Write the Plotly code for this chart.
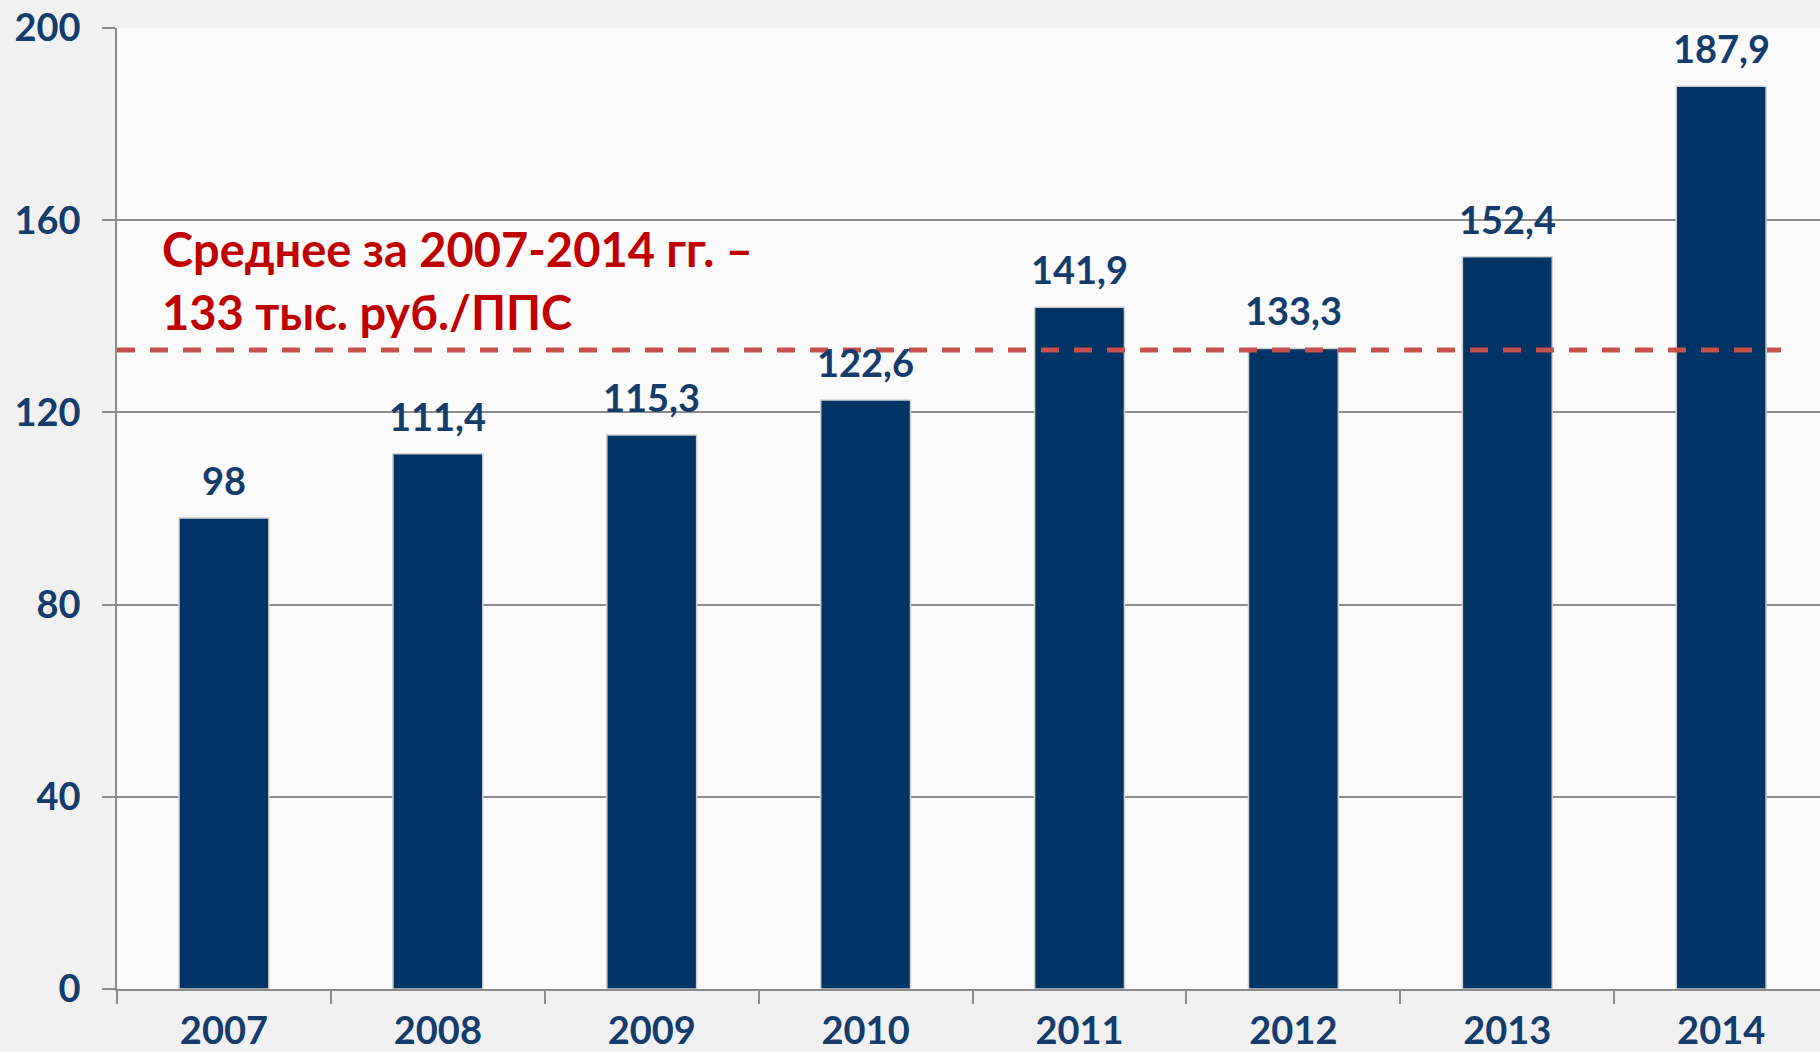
import plotly.graph_objects as go

years = ["2007", "2008", "2009", "2010", "2011", "2012", "2013", "2014"]
values = [98, 111.4, 115.3, 122.6, 141.9, 133.3, 152.4, 187.9]
labels = ["98", "111,4", "115,3", "122,6", "141,9", "133,3", "152,4", "187,9"]
average = 133
avg_lines = ["Среднее за 2007-2014 гг. –", "133 тыс. руб./ППС"]
y_ticks = [0, 40, 80, 120, 160, 200]

navy = "#003366"
label_color = "#143c6c"
font_family = "Lato, 'Open Sans', sans-serif"

fig = go.Figure()
fig.add_trace(go.Bar(
    x=years, y=values, width=0.42,
    marker=dict(color=navy, line=dict(color="#d0d0d0", width=1.5)),
    hoverinfo="skip",
))

for i, (v, t) in enumerate(zip(values, labels)):
    fig.add_annotation(x=i, y=v, text=t, showarrow=False, yanchor="middle",
                       yshift=38, font=dict(size=38, color=label_color, family=font_family,
                                            weight="bold"))

fig.add_shape(type="line", xref="x", yref="y", x0=-0.5, x1=7.28, y0=average, y1=average,
              line=dict(color="#c8504d", width=5, dash="18px,15px"), layer="above")

for line, ypos in zip(avg_lines, [154.0, 140.8]):
    fig.add_annotation(xref="x", yref="y", x=-0.30, y=ypos, xanchor="left",
                       yanchor="middle", align="left", showarrow=False, text=line,
                       font=dict(size=47, color="#c00000", family=font_family, weight="bold"))

fig.update_layout(
    width=1820, height=1052,
    margin=dict(l=117, r=0, t=28, b=57),
    paper_bgcolor="#f1f1f1",
    plot_bgcolor="#fbfbfb",
    showlegend=False,
    font=dict(family=font_family),
)
fig.update_xaxes(
    type="category", range=[-0.5, 7.462], tickson="boundaries",
    ticks="outside", ticklen=13, tickcolor="#8c8c8c", tickwidth=1.5,
    showline=True, linecolor="#8c8c8c", linewidth=1.5,
    showgrid=False, ticklabelstandoff=8,
    tickfont=dict(size=38, color=label_color, family=font_family, weight="bold"),
)
fig.update_yaxes(
    range=[0, 200], tickvals=y_ticks, ticks="outside", ticklen=13,
    tickcolor="#8c8c8c", tickwidth=1.5,
    showline=True, linecolor="#8c8c8c", linewidth=1.5,
    showgrid=True, gridcolor="#8c8c8c", gridwidth=1.5, zeroline=False,
    ticklabelstandoff=14,
    tickfont=dict(size=38, color=label_color, family=font_family, weight="bold"),
)

fig.write_html("out.html", config={"displayModeBar": False},
               post_script="document.body.style.margin='0';")
